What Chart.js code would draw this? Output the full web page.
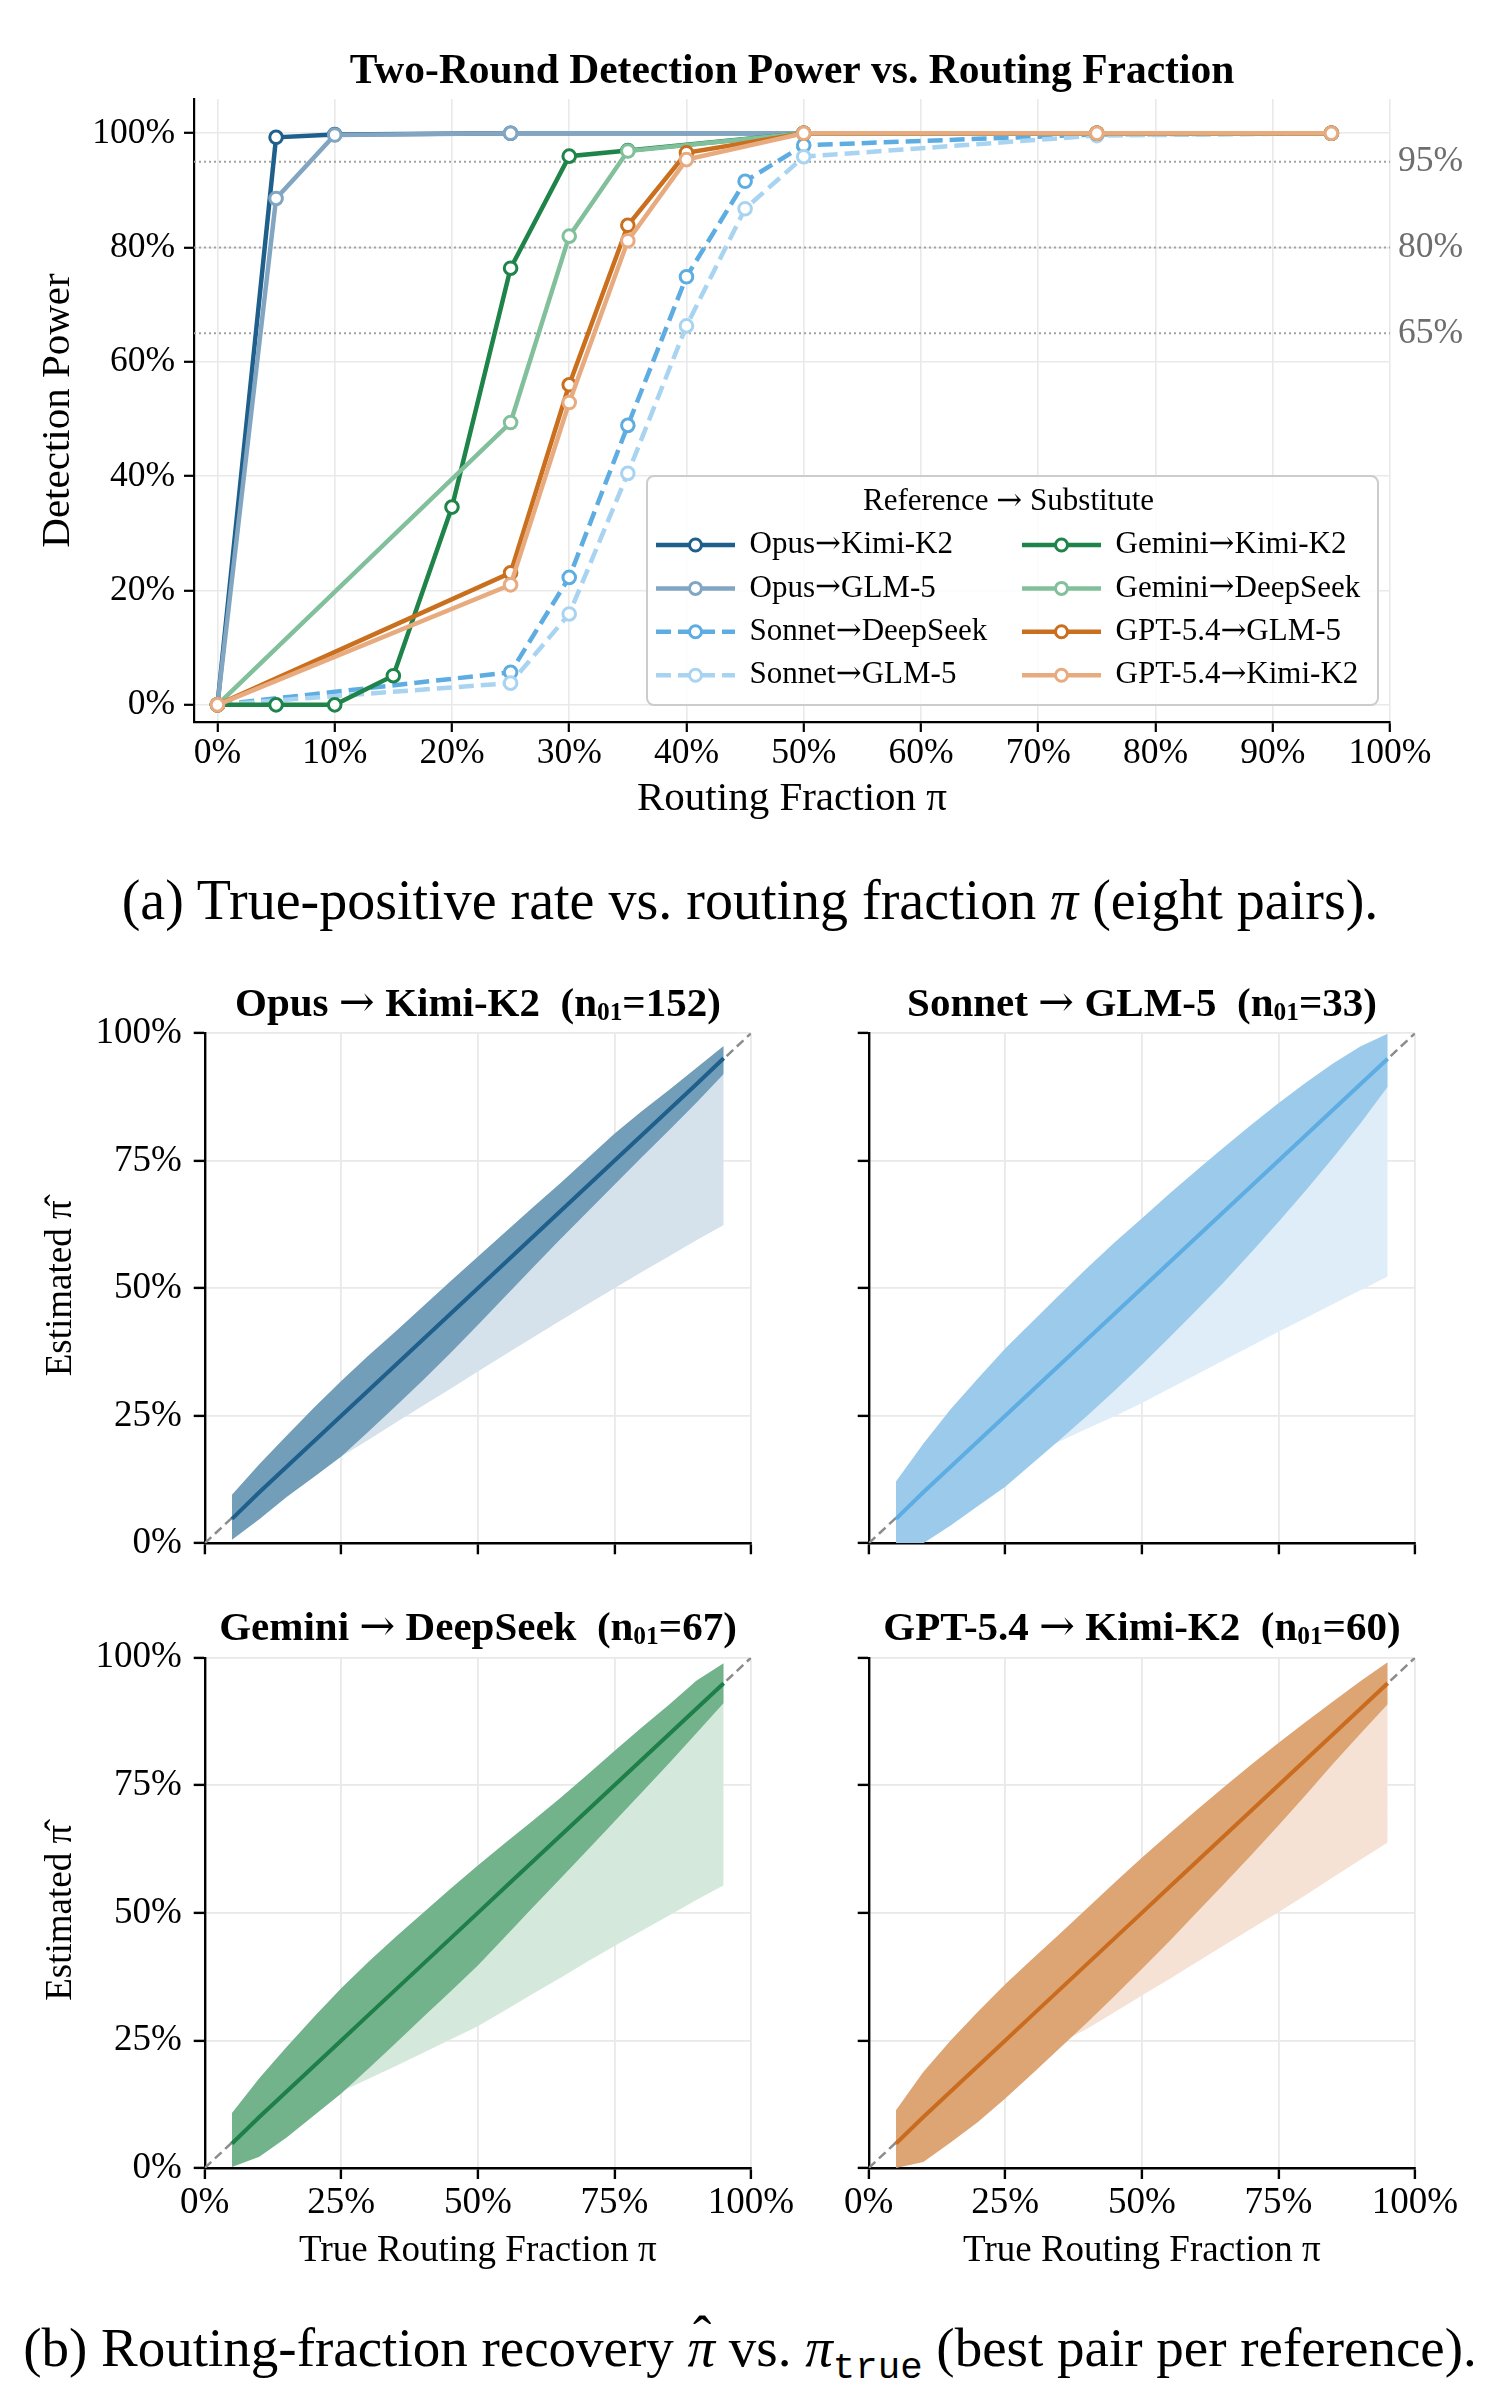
<!DOCTYPE html>
<html lang="en">
<head>
<meta charset="utf-8">
<title>Detection power and routing-fraction recovery</title>
<script src="https://cdn.jsdelivr.net/npm/chart.js@4.4.1/dist/chart.umd.min.js"></script>
<style>
    html, body { margin: 0; padding: 0; background: #ffffff; }
    body {
        position: relative; width: 1500px; height: 2400px; overflow: hidden;
        font-family: 'Liberation Serif', 'Times New Roman', serif; color: #000;
    }
    canvas { position: absolute; }
    .panel-title {
        position: absolute; font-size: 41px; font-weight: bold; white-space: nowrap;
        transform: translate(-50%, -50%); line-height: 1;
    }
    .panel-title sub { font-size: 0.62em; vertical-align: -0.12em; line-height: 0; }
    .arrow { font-family: 'DejaVu Serif', serif; font-weight: normal; font-size: 1.05em; }
    .caption {
        position: absolute; left: 0; width: 1500px; text-align: center; font-size: 55px;
        white-space: nowrap; transform: translateY(-50%); line-height: 1;
    }
    .caption .tt { font-family: 'Liberation Mono', 'DejaVu Sans Mono', monospace; font-size: 0.68em; }
    .hat { position: relative; display: inline-block; }
    .hat::after {
        content: 'ˆ'; position: absolute; left: 0.1em; top: -0.22em; font-style: normal;
    }
</style>
</head>
<body>

<canvas id="powerChart" width="1500" height="860" style="left:0;top:0"></canvas>
<div class="caption" style="top:900px;font-size:56px">(a) True-positive rate vs. routing fraction <i>π</i> (eight pairs).</div>

<canvas id="recOpus" width="820" height="600" style="left:0;top:1000px"></canvas>
<canvas id="recSonnet" width="740" height="600" style="left:760px;top:1000px"></canvas>
<canvas id="recGemini" width="820" height="680" style="left:0;top:1625px"></canvas>
<canvas id="recGpt" width="740" height="680" style="left:760px;top:1625px"></canvas>

<div class="panel-title" style="left:478px;top:1002px">Opus <span class="arrow">→</span> Kimi-K2&nbsp;&nbsp;(n<sub>01</sub>=152)</div>
<div class="panel-title" style="left:1142px;top:1002px">Sonnet <span class="arrow">→</span> GLM-5&nbsp;&nbsp;(n<sub>01</sub>=33)</div>
<div class="panel-title" style="left:478px;top:1626px">Gemini <span class="arrow">→</span> DeepSeek&nbsp;&nbsp;(n<sub>01</sub>=67)</div>
<div class="panel-title" style="left:1142px;top:1626px">GPT-5.4 <span class="arrow">→</span> Kimi-K2&nbsp;&nbsp;(n<sub>01</sub>=60)</div>

<div class="caption" style="top:2354px">(b) Routing-fraction recovery <span class="hat"><i>π</i></span> vs. <i>π</i><sub class="tt">true</sub> (best pair per reference).</div>

<script>
/* ============================================
   (a) DETECTION POWER DATA  (percent)
   ============================================ */
const powerXTicks = [0, 10, 20, 30, 40, 50, 60, 70, 80, 90, 100];
const powerYTicks = [0, 20, 40, 60, 80, 100];
const powerThresholds = [95, 80, 65];

const pairLabels = [
    'Opus→Kimi-K2', 'Opus→GLM-5', 'Sonnet→DeepSeek', 'Sonnet→GLM-5',
    'Gemini→Kimi-K2', 'Gemini→DeepSeek', 'GPT-5.4→GLM-5', 'GPT-5.4→Kimi-K2'
];

const opusKimiX = [0, 5, 10, 25, 50, 75, 95];
const opusKimiPower = [0, 99.3, 99.8, 100, 100, 100, 100];
const opusGlmX = [0, 5, 10, 25, 50, 75, 95];
const opusGlmPower = [0, 88.6, 99.7, 100, 100, 100, 100];
const sonnetDeepseekX = [0, 25, 30, 35, 40, 45, 50, 75, 95];
const sonnetDeepseekPower = [0, 5.7, 22.3, 48.9, 74.9, 91.6, 97.9, 99.8, 100];
const sonnetGlmX = [0, 25, 30, 35, 40, 45, 50, 75, 95];
const sonnetGlmPower = [0, 3.8, 15.9, 40.5, 66.3, 86.8, 95.9, 99.6, 100];
const geminiKimiX = [0, 5, 10, 15, 20, 25, 30, 35, 50, 75, 95];
const geminiKimiPower = [0, 0, 0, 5.1, 34.6, 76.4, 96.0, 97.0, 100, 100, 100];
const geminiDeepseekX = [0, 25, 30, 35, 50, 75, 95];
const geminiDeepseekPower = [0, 49.4, 82.0, 96.9, 100, 100, 100];
const gptGlmX = [0, 25, 30, 35, 40, 50, 75, 95];
const gptGlmPower = [0, 23.1, 56.0, 83.9, 96.6, 100, 100, 100];
const gptKimiX = [0, 25, 30, 35, 40, 50, 75, 95];
const gptKimiPower = [0, 21.0, 52.9, 81.2, 95.4, 100, 100, 100];

/* ============================================
   (b) ROUTING-FRACTION RECOVERY DATA  (percent)
   ============================================ */
const recoveryX = [5, 10, 15, 20, 25, 30, 35, 40, 45, 50, 55, 60, 65, 70, 75, 80, 85, 90, 95];
const recoveryTicks = [0, 25, 50, 75, 100];
const diagonal = [0, 100];

const opusMedian    = [4.8, 10.0, 15.0, 20.0, 25.0, 30.0, 35.0, 40.0, 45.0, 50.0, 55.0, 60.0, 65.0, 70.0, 75.0, 80.0, 85.0, 90.0, 95.1];
const opusInnerHigh = [9.5, 15.5, 21.1, 26.6, 31.8, 36.8, 41.6, 46.5, 51.4, 56.2, 61.0, 65.8, 70.5, 75.4, 80.3, 84.7, 88.9, 93.2, 97.5];
const opusInnerLow  = [0.7, 4.7, 9.1, 13.0, 17.0, 21.9, 26.9, 32.0, 37.3, 42.8, 48.4, 54.0, 59.5, 64.9, 70.3, 75.7, 81.0, 86.4, 92.0];
const opusOuterLow  = [4.0, 7.5, 10.5, 13.8, 17.0, 20.3, 23.7, 27.0, 30.3, 33.7, 37.0, 40.3, 43.6, 46.8, 50.0, 53.2, 56.3, 59.4, 62.4];

const sonnetMedian    = [4.8, 10.0, 15.0, 20.0, 25.0, 30.0, 35.0, 40.0, 45.0, 50.0, 55.0, 60.0, 65.0, 70.0, 75.0, 80.0, 85.0, 90.0, 95.0];
const sonnetInnerHigh = [12.1, 19.5, 26.3, 32.3, 38.2, 43.5, 48.8, 54.0, 59.0, 63.7, 68.5, 73.1, 77.6, 82.0, 86.3, 90.3, 94.1, 97.4, 99.9];
const sonnetInnerLow  = [0.0, 0.0, 3.5, 7.3, 11.1, 15.7, 20.3, 25.0, 29.9, 35.0, 40.3, 45.7, 51.2, 57.0, 63.0, 69.2, 75.6, 82.3, 89.5];
const sonnetOuterLow  = [4.0, 7.0, 10.0, 12.5, 15.0, 17.5, 20.0, 22.5, 24.9, 27.5, 30.3, 33.1, 35.9, 38.7, 41.5, 44.2, 46.9, 49.6, 52.3];

const geminiMedian    = [4.8, 10.0, 15.0, 20.0, 25.0, 30.0, 35.0, 40.0, 45.0, 50.0, 55.0, 60.0, 65.0, 70.0, 75.0, 80.0, 85.0, 90.0, 95.0];
const geminiInnerHigh = [10.8, 17.6, 23.7, 29.6, 35.2, 40.4, 45.3, 50.0, 54.7, 59.3, 63.7, 68.0, 72.4, 77.0, 81.7, 86.3, 90.8, 95.5, 98.9];
const geminiInnerLow  = [0.2, 2.2, 6.0, 10.3, 14.6, 19.5, 24.5, 29.6, 34.6, 39.7, 45.3, 51.0, 56.6, 62.2, 67.9, 73.6, 79.3, 85.2, 91.1];
const geminiOuterLow  = [3.0, 6.0, 9.0, 12.0, 15.0, 17.5, 20.0, 22.6, 25.2, 27.8, 30.9, 34.1, 37.2, 40.4, 43.5, 46.5, 49.5, 52.5, 55.4];

const gptMedian    = [4.8, 10.0, 15.0, 20.0, 25.0, 30.0, 35.0, 40.0, 45.0, 50.0, 55.0, 60.0, 65.0, 70.0, 75.0, 80.0, 85.0, 90.0, 95.0];
const gptInnerHigh = [11.3, 18.8, 25.0, 30.6, 36.0, 41.0, 45.9, 50.9, 55.9, 60.8, 65.5, 70.1, 74.6, 79.0, 83.3, 87.4, 91.4, 95.4, 99.1];
const gptInnerLow  = [0.0, 1.2, 5.0, 9.0, 13.6, 18.5, 23.5, 28.5, 33.7, 39.0, 44.4, 50.0, 55.6, 61.3, 67.1, 73.1, 79.2, 85.1, 90.9];
const gptOuterLow  = [5.0, 8.0, 11.5, 15.0, 18.0, 21.5, 24.5, 27.3, 30.5, 33.8, 37.0, 40.3, 43.6, 46.9, 50.1, 53.5, 57.0, 60.4, 63.8];

(function() {
    'use strict';

    const SERIF = "'Liberation Serif', 'Times New Roman', serif";
    const ARROW_FONT = "'DejaVu Serif', serif";

    document.addEventListener('DOMContentLoaded', function() {
        initPowerChart();
        initRecoveryCharts();
    });

    function points(xs, ys) {
        return xs.map((x, i) => ({ x: x, y: ys[i] }));
    }

    // text with the arrow drawn in a font that has a proper long arrow
    function drawArrowText(ctx, text, x, y, size) {
        const parts = text.split('→');
        let cx = x;
        parts.forEach((part, i) => {
            ctx.font = size + 'px ' + SERIF;
            ctx.fillText(part, cx, y);
            cx += ctx.measureText(part).width;
            if (i < parts.length - 1) {
                ctx.font = size + 'px ' + ARROW_FONT;
                ctx.fillText('→', cx, y);
                cx += ctx.measureText('→').width;
            }
        });
    }

    // dotted 95/80/65 reference lines with grey labels right of the plot
    const thresholdPlugin = {
        id: 'thresholdLines',
        beforeDatasetsDraw(chart) {
            const { ctx, chartArea, scales } = chart;
            ctx.save();
            ctx.strokeStyle = '#a3a3a3';
            ctx.lineWidth = 2;
            ctx.setLineDash([2, 3]);
            powerThresholds.forEach(v => {
                const y = scales.y.getPixelForValue(v);
                ctx.beginPath();
                ctx.moveTo(chartArea.left, y);
                ctx.lineTo(chartArea.right, y);
                ctx.stroke();
            });
            ctx.setLineDash([]);
            ctx.fillStyle = '#6e6e6e';
            ctx.font = '35.5px ' + SERIF;
            ctx.textBaseline = 'middle';
            ctx.textAlign = 'left';
            powerThresholds.forEach(v => {
                ctx.fillText(v + '%', chartArea.right + 8, scales.y.getPixelForValue(v));
            });
            ctx.restore();
        }
    };

    // two-column legend box inside the plot
    const legendPlugin = {
        id: 'pairLegend',
        afterDatasetsDraw(chart) {
            const ctx = chart.ctx;
            const box = { x: 647, y: 476, w: 731, h: 229 };
            ctx.save();
            ctx.fillStyle = 'rgba(255,255,255,0.85)';
            ctx.strokeStyle = '#cccccc';
            ctx.lineWidth = 2;
            ctx.beginPath();
            ctx.roundRect(box.x, box.y, box.w, box.h, 7);
            ctx.fill();
            ctx.stroke();

            ctx.fillStyle = '#000';
            ctx.textBaseline = 'middle';
            ctx.textAlign = 'left';
            drawArrowText(ctx, 'Reference → Substitute', 863, 502, 31);

            chart.data.datasets.forEach((ds, i) => {
                const col = Math.floor(i / 4);
                const row = i % 4;
                const x0 = col === 0 ? 656 : 1022;
                const y = 545 + row * 43.4;
                ctx.strokeStyle = ds.borderColor;
                ctx.lineWidth = 4.5;
                ctx.setLineDash(ds.borderDash.length ? [15, 7] : []);
                ctx.beginPath();
                ctx.moveTo(x0, y);
                ctx.lineTo(x0 + 79, y);
                ctx.stroke();
                ctx.setLineDash([]);
                ctx.fillStyle = '#ffffff';
                ctx.lineWidth = 3;
                ctx.beginPath();
                ctx.arc(x0 + 39.5, y, 6, 0, Math.PI * 2);
                ctx.fill();
                ctx.stroke();
                ctx.fillStyle = '#000';
                drawArrowText(ctx, ds.label, x0 + 93.6, y, 31);
            });
            ctx.restore();
        }
    };

    function initPowerChart() {
        const canvas = document.getElementById('powerChart');
        if (!canvas) return;

        const series = [
            [opusKimiX, opusKimiPower],
            [opusGlmX, opusGlmPower],
            [sonnetDeepseekX, sonnetDeepseekPower],
            [sonnetGlmX, sonnetGlmPower],
            [geminiKimiX, geminiKimiPower],
            [geminiDeepseekX, geminiDeepseekPower],
            [gptGlmX, gptGlmPower],
            [gptKimiX, gptKimiPower]
        ];
        const colors = ['#1f5f8b', '#82a6c2', '#5dade2', '#a9d4f1', '#1e8449', '#82c09c', '#ca6f1e', '#e8ab80'];
        const dashed = [false, false, true, true, false, false, false, false];

        const datasets = series.map((s, i) => ({
            label: pairLabels[i],
            data: points(s[0], s[1]),
            borderColor: colors[i],
            backgroundColor: colors[i],
            borderWidth: 4.5,
            borderDash: dashed[i] ? [15, 7] : [],
            pointRadius: 6.3,
            pointBorderWidth: 3,
            pointBackgroundColor: '#ffffff',
            pointBorderColor: colors[i],
            order: series.length - i
        }));

        const tickFont = { family: SERIF, size: 35.5, lineHeight: 1 };
        const titleFont = { family: SERIF, size: 41 };
        const grid = { color: '#e9e9e9', lineWidth: 1.6, tickColor: '#000', tickLength: 10, tickWidth: 2.2 };
        const border = { color: '#000', width: 2.2 };

        new Chart(canvas.getContext('2d'), {
            type: 'line',
            data: { datasets: datasets },
            plugins: [thresholdPlugin, legendPlugin],
            options: {
                responsive: false,
                maintainAspectRatio: false,
                animation: false,
                layout: { padding: { left: 0, right: 110, top: 0, bottom: 0 } },
                plugins: {
                    legend: { display: false },
                    tooltip: { enabled: false },
                    title: {
                        display: true,
                        text: 'Two-Round Detection Power vs. Routing Fraction',
                        fullSize: false,
                        color: '#000',
                        font: { family: SERIF, size: 41.5, weight: 'bold' },
                        padding: { top: 47.1, bottom: 2.1 }
                    }
                },
                scales: {
                    x: {
                        type: 'linear',
                        min: -2,
                        max: 100,
                        afterBuildTicks: function(scale) {
                            scale.ticks = powerXTicks.map(v => ({ value: v }));
                        },
                        afterFit: function(scale) { scale.height = 138; },
                        ticks: {
                            color: '#000', font: tickFont, padding: 4,
                            maxRotation: 0, autoSkip: false,
                            callback: v => v + '%'
                        },
                        grid: grid,
                        border: border,
                        title: {
                            display: true, text: 'Routing Fraction π', color: '#000',
                            font: titleFont, padding: { top: 0, bottom: 36.4 }
                        }
                    },
                    y: {
                        type: 'linear',
                        min: -3,
                        max: 106,
                        afterBuildTicks: function(scale) {
                            scale.ticks = powerYTicks.map(v => ({ value: v }));
                        },
                        afterFit: function(scale) { scale.width = 194; },
                        ticks: {
                            color: '#000', font: tickFont, padding: 9,
                            callback: v => v + '%'
                        },
                        grid: grid,
                        border: border,
                        title: {
                            display: true, text: 'Detection Power', color: '#000',
                            font: titleFont, padding: { top: 33.4, bottom: 0 }
                        }
                    }
                }
            }
        });
    }

    function initRecoveryCharts() {
        const panels = [
            { id: 'recOpus', median: opusMedian, innerLow: opusInnerLow, innerHigh: opusInnerHigh, outerLow: opusOuterLow,
              line: '#1f5f8b', inner: '#739eb9', outer: '#d5e2eb', col: 0, row: 0 },
            { id: 'recSonnet', median: sonnetMedian, innerLow: sonnetInnerLow, innerHigh: sonnetInnerHigh, outerLow: sonnetOuterLow,
              line: '#5dade2', inner: '#9ccaeb', outer: '#deedf8', col: 1, row: 0 },
            { id: 'recGemini', median: geminiMedian, innerLow: geminiInnerLow, innerHigh: geminiInnerHigh, outerLow: geminiOuterLow,
              line: '#1e7f48', inner: '#72b38c', outer: '#d4e9dc', col: 0, row: 1 },
            { id: 'recGpt', median: gptMedian, innerLow: gptInnerLow, innerHigh: gptInnerHigh, outerLow: gptOuterLow,
              line: '#ca6c1f', inner: '#dda574', outer: '#f5e2d4', col: 1, row: 1 }
        ];
        panels.forEach(makeRecoveryChart);
    }

    function makeRecoveryChart(p) {
        const canvas = document.getElementById(p.id);
        if (!canvas) return;

        const isLeft = p.col === 0;
        const isBottom = p.row === 1;
        const clear = 'rgba(0,0,0,0)';

        const datasets = [
            { data: points(diagonal, diagonal), borderColor: '#8c8c8c', borderWidth: 2.5,
              borderDash: [9, 5], pointRadius: 0, fill: false, order: 5 },
            { data: points(recoveryX, p.innerHigh), borderColor: clear, borderWidth: 1,
              pointRadius: 0, fill: false, order: 4 },
            { data: points(recoveryX, p.outerLow), borderColor: clear, borderWidth: 1,
              backgroundColor: p.outer, pointRadius: 0, fill: 1, order: 3 },
            { data: points(recoveryX, p.innerLow), borderColor: clear, borderWidth: 1,
              backgroundColor: p.inner, pointRadius: 0, fill: 1, order: 2 },
            { data: points(recoveryX, p.median), borderColor: p.line, borderWidth: 4,
              pointRadius: 0, fill: false, order: 1 }
        ];

        const tickFont = { family: SERIF, size: 37, lineHeight: 1 };
        const titleFont = { family: SERIF, size: 37 };
        const grid = { color: '#e9e9e9', lineWidth: 1.8, tickColor: '#000', tickLength: 11, tickWidth: 2.4 };
        const border = { color: '#000', width: 2.4 };

        new Chart(canvas.getContext('2d'), {
            type: 'line',
            data: { datasets: datasets },
            options: {
                responsive: false,
                maintainAspectRatio: false,
                animation: false,
                layout: {
                    padding: { left: 0, right: isLeft ? 69 : 85, top: isBottom ? 32.7 : 33.3, bottom: 0 }
                },
                plugins: {
                    legend: { display: false },
                    tooltip: { enabled: false }
                },
                scales: {
                    x: {
                        type: 'linear',
                        min: 0,
                        max: 100,
                        afterBuildTicks: function(scale) {
                            scale.ticks = recoveryTicks.map(v => ({ value: v }));
                        },
                        afterFit: function(scale) { scale.height = isBottom ? 137 : 56.7; },
                        ticks: {
                            display: isBottom, color: '#000', font: tickFont, padding: 6,
                            maxRotation: 0, autoSkip: false,
                            callback: v => v + '%'
                        },
                        grid: grid,
                        border: border,
                        title: {
                            display: isBottom, text: 'True Routing Fraction π', color: '#000',
                            font: titleFont, padding: { top: 0, bottom: 31.2 }
                        }
                    },
                    y: {
                        type: 'linear',
                        min: 0,
                        max: 100,
                        afterBuildTicks: function(scale) {
                            scale.ticks = recoveryTicks.map(v => ({ value: v }));
                        },
                        afterFit: function(scale) { scale.width = isLeft ? 204.7 : 108.7; },
                        ticks: {
                            display: isLeft, color: '#000', font: tickFont, padding: 12,
                            callback: v => v + '%'
                        },
                        grid: grid,
                        border: border,
                        title: {
                            display: isLeft, text: 'Estimated \u03C0\u0302', color: '#000',
                            font: titleFont, padding: { top: 38.8, bottom: 0 }
                        }
                    }
                }
            }
        });
    }

})();
</script>
</body>
</html>
